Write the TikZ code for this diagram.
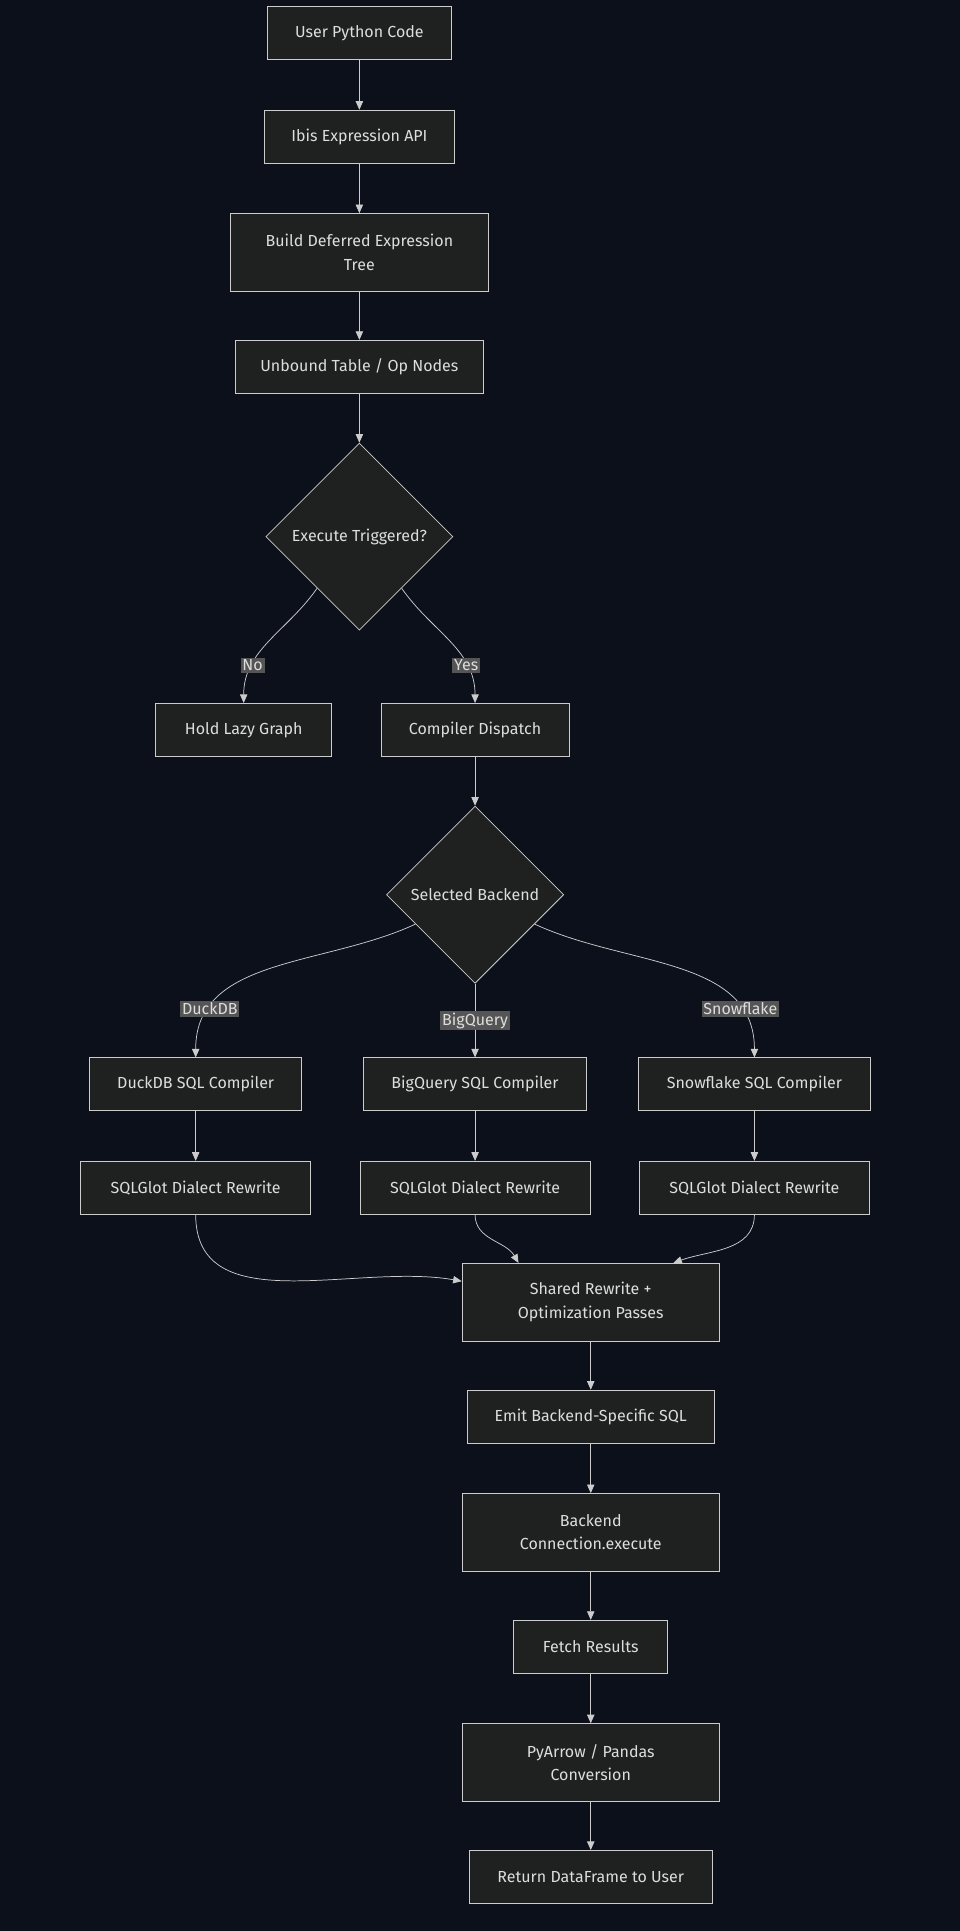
\documentclass[tikz,border=0pt]{standalone}
\usepackage{fontspec}
\setmainfont{Fira Sans}
\usetikzlibrary{shapes.geometric,arrows.meta,calc}
\definecolor{bgcol}{HTML}{0B101A}
\definecolor{boxfill}{HTML}{1F2020}
\definecolor{boxline}{HTML}{CCCCCC}
\definecolor{txt}{HTML}{DDDDDD}
\definecolor{lblbg}{HTML}{555555}
\tikzset{
  box/.style={rectangle, draw=boxline, fill=boxfill, text=txt, line width=0.6pt,
    minimum height=43pt, align=center, font=\fontsize{13}{19}\selectfont},
  decision/.style={diamond, draw=boxline, fill=boxfill, text=txt, line width=0.6pt,
    aspect=1, inner sep=0pt, font=\fontsize{13}{16}\selectfont},
  flow/.style={draw=boxline, line width=0.6pt, -{Triangle[length=7pt,width=6pt]}},
  lbl/.style={fill=lblbg, text=txt, inner sep=1.5pt, font=\fontsize{13}{15}\selectfont}
}
\begin{document}
\begin{tikzpicture}[x=1pt, y=-1pt]
    \fill[bgcol] (0,0) rectangle (780,1569);
    \useasboundingbox (0,0) rectangle (780,1569);
    % Define nodes
    \node (user) at (292,27) [box, minimum width=150pt] {User Python Code};
    \node (api) at (292,111) [box, minimum width=154pt] {Ibis Expression API};
    \node (tree) at (292,205) [box, minimum width=209pt, minimum height=63pt] {Build Deferred Expression\\Tree};
    \node (unbound) at (292,298) [box, minimum width=202pt] {Unbound Table / Op Nodes};
    \node (exec) at (292,436) [decision, minimum size=152pt] {Execute Triggered?};
    \node (lazy) at (198,593) [box, minimum width=143pt] {Hold Lazy Graph};
    \node (dispatch) at (386,593) [box, minimum width=153pt] {Compiler Dispatch};
    \node (backend) at (386,727) [decision, minimum size=144pt] {Selected Backend};
    \node (duckc) at (159,881) [box, minimum width=172pt] {DuckDB SQL Compiler};
    \node (bqc) at (386,881) [box, minimum width=181pt] {BigQuery SQL Compiler};
    \node (snowc) at (613,881) [box, minimum width=188pt] {Snowflake SQL Compiler};
    \node (duckr) at (159,965) [box, minimum width=187pt] {SQLGlot Dialect Rewrite};
    \node (bqr) at (386,965) [box, minimum width=187pt] {SQLGlot Dialect Rewrite};
    \node (snowr) at (613,965) [box, minimum width=187pt] {SQLGlot Dialect Rewrite};
    \node (shared) at (480,1058) [box, minimum width=209pt, minimum height=63pt] {Shared Rewrite +\\Optimization Passes};
    \node (emit) at (480,1151) [box, minimum width=201pt] {Emit Backend-Specific SQL};
    \node (conn) at (480,1245) [box, minimum width=209pt, minimum height=63pt] {Backend\\Connection.execute};
    \node (fetch) at (480,1338) [box, minimum width=125pt] {Fetch Results};
    \node (conv) at (480,1432) [box, minimum width=209pt, minimum height=63pt] {PyArrow / Pandas\\Conversion};
    \node (ret) at (480,1525) [box, minimum width=198pt] {Return DataFrame to User};

    % Draw arrows
    \draw[flow] (user) -- (api);
    \draw[flow] (api) -- (tree);
    \draw[flow] (tree) -- (unbound);
    \draw[flow] (unbound) -- (exec);
    \draw[flow] ($(exec.west)!0.55!(exec.south)$) to[out=-125, in=90] node[lbl, pos=0.72] {No} (lazy.north);
    \draw[flow] ($(exec.east)!0.55!(exec.south)$) to[out=-55, in=90] node[lbl, pos=0.72] {Yes} (dispatch.north);
    \draw[flow] (dispatch) -- (backend);
    \draw[flow] ($(backend.west)!0.33!(backend.south)$) to[out=-155, in=90] node[lbl, pos=0.8] {DuckDB} (duckc.north);
    \draw[flow] (backend.south) -- node[lbl, pos=0.5] {BigQuery} (bqc.north);
    \draw[flow] ($(backend.east)!0.33!(backend.south)$) to[out=-25, in=90] node[lbl, pos=0.8] {Snowflake} (snowc.north);
    \draw[flow] (duckc) -- (duckr);
    \draw[flow] (bqc) -- (bqr);
    \draw[flow] (snowc) -- (snowr);
    \draw[flow] (duckr.south) to[out=-90, in=170] (shared.west |- 0,1041);
    \draw[flow] (bqr.south) to[out=-90, in=120] ($(shared.north west)!0.22!(shared.north east)$);
    \draw[flow] (snowr.south) to[out=-90, in=20] ($(shared.north west)!0.82!(shared.north east)$);
    \draw[flow] (shared) -- (emit);
    \draw[flow] (emit) -- (conn);
    \draw[flow] (conn) -- (fetch);
    \draw[flow] (fetch) -- (conv);
    \draw[flow] (conv) -- (ret);
\end{tikzpicture}
\end{document}
